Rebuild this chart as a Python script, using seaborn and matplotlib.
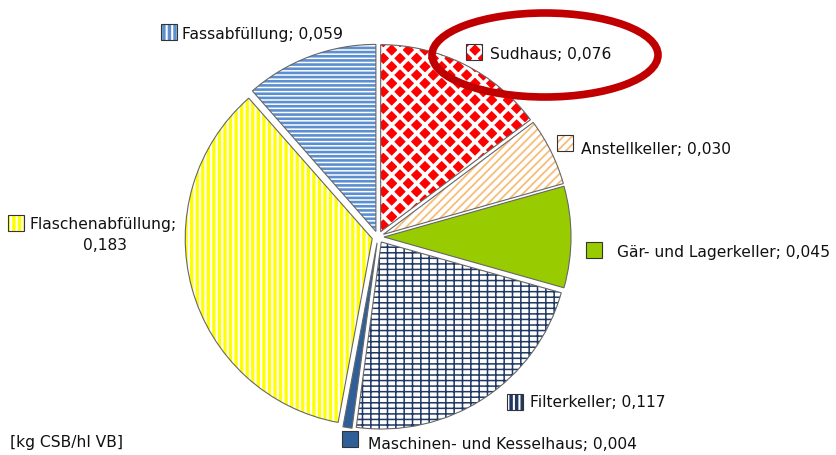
import matplotlib
matplotlib.use("Agg")
import matplotlib.pyplot as plt
import seaborn as sns
from matplotlib.patches import Rectangle, Ellipse

sns.set_theme(style="white")
plt.rcParams['font.family'] = ['DejaVu Sans']

# ---- data ----
categories = ["Sudhaus", "Anstellkeller", "Gär- und Lagerkeller", "Filterkeller",
              "Maschinen- und Kesselhaus", "Flaschenabfüllung", "Fassabfüllung"]
values = [0.076, 0.030, 0.045, 0.117, 0.004, 0.183, 0.059]
value_labels = ["0,076", "0,030", "0,045", "0,117", "0,004", "0,183", "0,059"]
unit_label = "[kg CSB/hl VB]"

# styles: (facecolor, hatchcolor, hatch, hatch linewidth)
styles = [
    ("#FF0000", "#FFFFFF", "xx", 2.6),
    ("#FFFFFF", "#F5BE7A", "////", 1.3),
    ("#99CC00", None, None, 0),
    ("#FFFFFF", "#1F3864", "---||", 1.1),
    ("#2F5F98", None, None, 0),
    ("#FFFFFF", "#FFFF00", "|||", 2.4),
    ("#FFFFFF", "#5B8FD0", "----", 1.9),
]
explode_frac = [0.032, 0.032, 0.032, 0.032, 0.032, 0.032, 0.032]

W, H = 837, 456
fig = plt.figure(figsize=(W / 100, H / 100), dpi=100)
ax = fig.add_axes([0, 0, 1, 1])

cx, cy, R = 378, H - 238, 187
explode = [e * R for e in explode_frac]

def style_patch(p, st):
    fc, hc, hatch, hlw = st
    p.set_facecolor(fc)
    if hatch:
        p.set_edgecolor(hc)
        p.set_hatch(hatch)
        try:
            p.set_hatch_linewidth(hlw)
        except Exception:
            pass
    else:
        p.set_edgecolor(fc)
    p.set_linewidth(0)

wedges, _ = ax.pie(values, startangle=90, counterclock=False, explode=explode,
                   center=(cx, cy), radius=R)
for w, st in zip(wedges, styles):
    style_patch(w, st)

# outlines
outl, _ = ax.pie(values, startangle=90, counterclock=False, explode=explode,
                 center=(cx, cy), radius=R,
                 wedgeprops=dict(facecolor="none", edgecolor="#666666", linewidth=0.8))

# labels: (square x, square y-top, text x, text y-center)
fs = 11.2
label_pos = [
    (466, 45, 490, 54),
    (557, 136, 581, 150),
    (586, 243, 617, 252),
    (507, 395, 530, 403),
    (342, 432, 368, 445),
    (8, 216, 30, 224),
    (161, 25, 182, 34),
]
legend_styles = list(styles)
legend_styles[3] = ("#1F3864", "#FFFFFF", "|||", 1.5)
legend_styles[6] = ("#FFFFFF", "#5B8FD0", "|||", 2.5)
legend_styles[5] = ("#FFFFFF", "#FFFF00", "|||", 2.5)

for i, (name, vl) in enumerate(zip(categories, value_labels)):
    sx, sy, tx, ty = label_pos[i]
    sq = Rectangle((sx, H - sy - 16), 16, 16)
    style_patch(sq, legend_styles[i])
    ax.add_patch(sq)
    ax.add_patch(Rectangle((sx, H - sy - 16), 16, 16, facecolor="none",
                           edgecolor="#333333", linewidth=0.8))
    if name == "Flaschenabfüllung":
        ax.text(tx, H - ty, name + ";", fontsize=fs, va="center", ha="left", color="#111111")
        ax.text(105, H - 246, vl, fontsize=fs, va="center", ha="center", color="#111111")
    else:
        ax.text(tx, H - ty, f"{name}; {vl}", fontsize=fs, va="center", ha="left",
                color="#111111")

ax.text(10, H - 443, unit_label, fontsize=fs, va="center", ha="left", color="#111111")

ax.add_patch(Ellipse((545, H - 56), 226, 84, facecolor="none",
                     edgecolor="#C00000", linewidth=5.5))

ax.set_xlim(0, W)
ax.set_ylim(0, H)
ax.set_aspect("equal")
ax.axis("off")
fig.savefig("out.png", dpi=100)
